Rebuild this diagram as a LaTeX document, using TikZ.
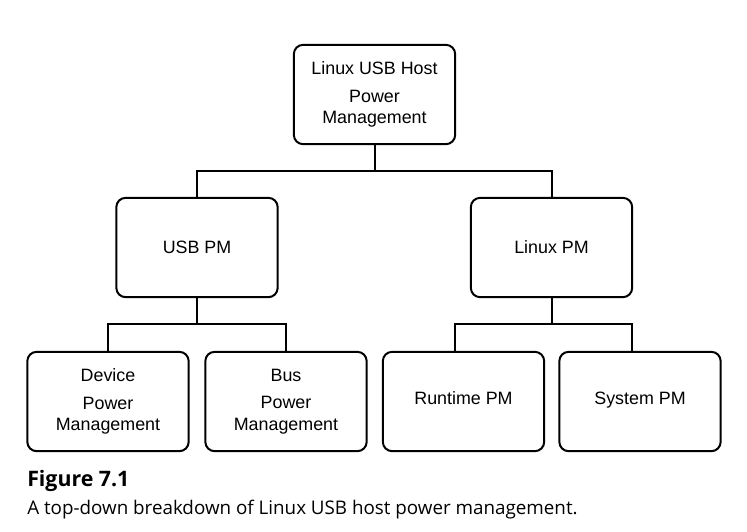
\documentclass[tikz,border=0pt]{standalone}
\usepackage{fontspec}
\setmainfont{Liberation Sans}
\newfontfamily\capfont{Open Sans}
\begin{document}
\begin{tikzpicture}[x=0.75pt, y=-0.75pt,
  pmbox/.style={draw, line width=1.5pt, rounded corners=7pt, minimum width=121pt,
    minimum height=74.5pt, align=center, inner sep=0pt,
    font=\fontsize{13.4}{16}\selectfont},
  oneline/.style={text height=9.6pt, text depth=0pt},
  link/.style={line width=1.5pt}]
\useasboundingbox (0,0) rectangle (747,532);

% boxes
\node [pmbox] (host) at (374.5,94.5) {Linux USB Host\\[4.8pt]Power\\Management};
\node [pmbox, oneline] (usbpm) at (197,247.5) {USB PM};
\node [pmbox, oneline] (linuxpm) at (551.5,247.5) {Linux PM};
\node [pmbox] (device) at (108,401.5) {Device\\[4.8pt]Power\\Management};
\node [pmbox] (bus) at (286,401.5) {Bus\\[4.8pt]Power\\Management};
\node [pmbox, oneline, text depth=5pt] (runtime) at (463.5,401.5) {Runtime PM};
\node [pmbox, oneline, text depth=5pt] (system) at (640,401.5) {System PM};

% tree lines
\draw [link] (host.south) -- ++(0,26) -| (usbpm.north);
\draw [link] (host.south) -- ++(0,26) -| (linuxpm.north);
\draw [link] (usbpm.south) -- ++(0,26) -| (device.north);
\draw [link] (usbpm.south) -- ++(0,26) -| (bus.north);
\draw [link] (linuxpm.south) -- ++(0,26) -| ([xshift=-6.4pt]runtime.north);
\draw [link] (linuxpm.south) -- ++(0,26) -| ([xshift=-6pt]system.north);

% caption
\node [anchor=base west, inner sep=0pt, font=\capfont\bfseries\fontsize{16}{19}\selectfont]
  (figno) at (27,486) {Figure 7.1};
\node [anchor=base west, inner sep=0pt, font=\capfont\fontsize{14.1}{17}\selectfont]
  (figtext) at (27,514) {A top-down breakdown of Linux USB host power management.};
\end{tikzpicture}
\end{document}
